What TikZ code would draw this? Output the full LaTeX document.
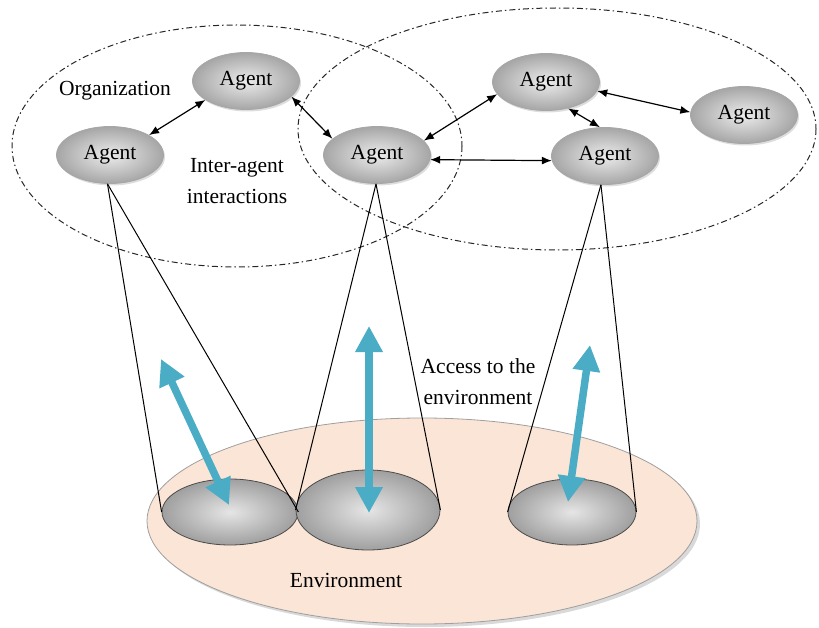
\documentclass[tikz,border=0pt]{standalone}
\usepackage{fontspec}
\setmainfont{Liberation Serif}
\usetikzlibrary{shapes.geometric,arrows.meta,shadows}
\definecolor{acc}{HTML}{4BACC6}
\definecolor{peach}{HTML}{FBE5D6}
\tikzset{
 agent/.style={ellipse, draw=gray!70, line width=0.8pt, inner sep=0pt, minimum width=107pt, minimum height=57pt,
   inner color=gray!15, outer color=gray!70, font=\fontsize{21.5}{24}\selectfont,
   drop shadow={shadow xshift=1.5pt, shadow yshift=-2pt, fill=gray!45, opacity=0.6}},
 disc/.style={ellipse, draw=gray!60!black, line width=0.8pt, inner sep=0pt, inner color=gray!20, outer color=gray!75},
 org/.style={draw=black!85, line width=1pt, dash pattern=on 6pt off 3pt on 1.5pt off 3pt},
 link/.style={line width=1.2pt, {Latex[length=10pt,width=8pt]}-{Latex[length=10pt,width=8pt]}},
 cone/.style={line width=1pt},
 access/.style={acc, line width=7.5pt, {Triangle[length=26pt,width=26pt]}-{Triangle[length=26pt,width=26pt]}},
 lbl/.style={font=\fontsize{21.5}{31}\selectfont, align=center, inner sep=0pt}
}
\begin{document}
\begin{tikzpicture}[x=1pt,y=-1pt]
\useasboundingbox (0,0) rectangle (819,628);
% organizations
\draw[org] (237,146) ellipse [x radius=225, y radius=121];
\draw[org] (557,129) ellipse [x radius=259, y radius=121];
% environment
\node[ellipse, draw=gray!75, line width=0.8pt, fill=peach, minimum width=550pt, minimum height=206pt, inner sep=0pt,
  drop shadow={shadow xshift=3pt, shadow yshift=-3pt, fill=gray!50, opacity=0.6}] (env) at (422,521) {};
% discs
\node[disc, minimum width=136pt, minimum height=66pt] (d1) at (230,512) {};
\node[disc, minimum width=144pt, minimum height=80pt] (d2) at (368,510) {};
\node[disc, minimum width=128pt, minimum height=66pt] (d3) at (572,512) {};
% agents
\node[agent] (a1) at (110,155) {Agent};
\node[agent] (a2) at (246,81) {Agent};
\node[agent] (a3) at (377,155) {Agent};
\node[agent] (a4) at (546,82) {Agent};
\node[agent] (a5) at (744,115) {Agent};
\node[agent] (a6) at (605,156) {Agent};
% cones
\draw[cone] (a1.265) -- (d1.west);
\draw[cone] (a1.265) -- (d1.east);
\draw[cone] (a3.268) -- (d2.west);
\draw[cone] (a3.268) -- (d2.east);
\draw[cone] (a6.262) -- (d3.west);
\draw[cone] (a6.262) -- (d3.east);
% links
\draw[link] (a1.27) -- (a2.205);
\draw[link] (a2.-19) -- (a3.160);
\draw[link] (a3.17) -- (a4.194);
\draw[link] (a3.-5) -- (a6.185);
\draw[link] (a4.-10) -- (a5.177);
\draw[link] (a4.-50) -- (a6.100);
% access arrows
\coordinate (b1s) at (161,359); \coordinate (b1e) at (229,505);
\coordinate (b2s) at (369,326); \coordinate (b2e) at (369,513);
\coordinate (b3s) at (590,345); \coordinate (b3e) at (568,502);
\draw[access] (b1s) -- (b1e);
\draw[access] (b2s) -- (b2e);
\draw[access] (b3s) -- (b3e);
% labels
\node[lbl] (orgl) at (115,91) {Organization};
\node[lbl] (inter) at (237,181) {Inter-agent\\interactions};
\node[lbl] (acl) at (478,382) {Access to the\\environment};
\node[lbl] (envl) at (346,580) {Environment};
\end{tikzpicture}
\end{document}
